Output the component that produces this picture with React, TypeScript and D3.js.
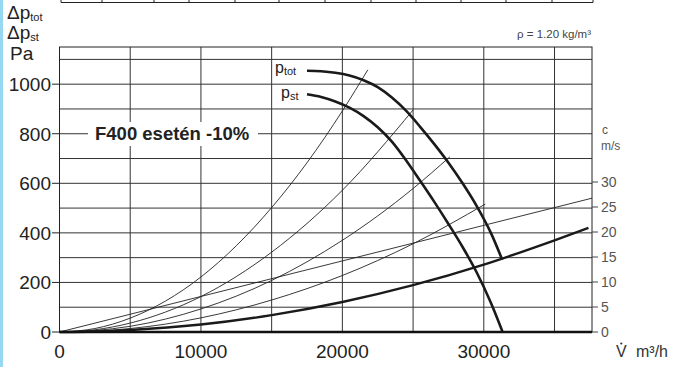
import React from 'react';
import * as d3 from 'd3';

// ---------- data ----------
const xTickValues = [0, 10000, 20000, 30000];
const xGridValues = [5000, 10000, 15000, 20000, 25000, 30000, 35000];
const yTickValues = [0, 200, 400, 600, 800, 1000];
const yGridValues = [100, 200, 300, 400, 500, 600, 700, 800, 900, 1000, 1100];
const cTickValues = [0, 5, 10, 15, 20, 25, 30];

type Pt = [number, number];

const pTotCurve: Pt[] = [
  [17500, 1054], [18500, 1052], [19500, 1046], [20500, 1035], [21500, 1016],
  [22500, 988], [23500, 946], [24500, 893], [25500, 828], [26500, 758],
  [27500, 683], [28500, 600], [29500, 508], [30500, 400], [31300, 292],
];
const pStCurve: Pt[] = [
  [17500, 959], [18500, 948], [19500, 930], [20500, 905], [21500, 871],
  [22500, 826], [23500, 768], [24500, 693], [25500, 610], [26500, 525],
  [27500, 436], [28500, 343], [29500, 240], [30500, 118], [31330, 0],
];
const systemCurve: Pt[] = [
  [0, 0], [2500, 2], [5000, 8], [10000, 30], [15000, 68], [20000, 121],
  [25000, 189], [30000, 272], [35000, 370], [37400, 420],
];
const thinCurveA: Pt[] = [
  [0, 0], [2500, 14], [5000, 56], [7500, 125], [10000, 222], [12500, 348],
  [15000, 502], [17500, 683], [20000, 892], [21800, 1058],
];
const thinCurveB: Pt[] = [
  [0, 0], [2500, 9], [5000, 36], [10000, 143], [15000, 322], [20000, 572], [25000, 896],
];
const thinCurveC: Pt[] = [
  [0, 0], [2500, 6], [5000, 23], [10000, 93], [15000, 208], [20000, 370], [25000, 579], [27600, 707],
];
const thinCurveD: Pt[] = [
  [0, 0], [2500, 3.5], [5000, 14], [10000, 57], [15000, 129], [20000, 228], [25000, 356], [30100, 516],
];
const velocityLine: Pt[] = [[0, 0], [37650, 540]];

// ---------- layout ----------
const W = 675;
const H = 367;
const L = 59.5, R = 592, T = 47, B = 332;
const tableEdges = [61, 102, 154, 189, 235, 279, 325, 371, 416, 461, 506, 552, 593];

const FONT = "'Liberation Sans', Arial, Helvetica, sans-serif";

export default function App() {
  const x = d3.scaleLinear().domain([0, 37650]).range([L, R]);
  const y = d3.scaleLinear().domain([0, 1150]).range([B, T]);
  const c = d3.scaleLinear().domain([0, 57]).range([B, T]);

  const line = d3
    .line<Pt>()
    .x((d) => x(d[0]))
    .y((d) => y(d[1]))
    .curve(d3.curveMonotoneX);

  const thin = [thinCurveA, thinCurveB, thinCurveC, thinCurveD, velocityLine];

  return (
    <svg
      width={W}
      height={H}
      viewBox={`0 0 ${W} ${H}`}
      style={{ position: 'absolute', left: 0, top: 0, background: '#fff' }}
      fontFamily={FONT}
    >
      <rect x={0} y={0} width={W} height={H} fill="#fff" />
      <rect x={0} y={0} width={3} height={H} fill="#96d7f2" />

      {/* top table remnant */}
      <line x1={tableEdges[0]} x2={tableEdges[tableEdges.length - 1]} y1={2.5} y2={2.5} stroke="#222" strokeWidth={1} />
      {tableEdges.map((e) => (
        <line key={'te' + e} x1={e} x2={e} y1={-1} y2={2.5} stroke="#222" strokeWidth={1} />
      ))}

      {/* grid */}
      {xGridValues.map((v) => (
        <line key={'gx' + v} x1={x(v)} x2={x(v)} y1={T} y2={B} stroke="#333" strokeWidth={1} />
      ))}
      {yGridValues.map((v) => (
        <line key={'gy' + v} x1={L} x2={R} y1={y(v)} y2={y(v)} stroke="#333" strokeWidth={1} />
      ))}
      <rect x={L} y={T} width={R - L} height={B - T} fill="none" stroke="#222" strokeWidth={1} />

      {/* label box */}
      <rect x={88} y={122} width={170} height={24} fill="#fff" />
      <text x={95} y={140} fontSize={18.5} fontWeight="bold" fill="#222">F400 esetén -10%</text>

      {/* thin curves */}
      {thin.map((d, i) => (
        <path key={'t' + i} d={line(d) || ''} fill="none" stroke="#222" strokeWidth={0.9} />
      ))}

      {/* thick curves */}
      <path d={line(systemCurve) || ''} fill="none" stroke="#1a1a1a" strokeWidth={2.4} />
      <path d={line(pTotCurve) || ''} fill="none" stroke="#1a1a1a" strokeWidth={2.6} />
      <path d={line(pStCurve) || ''} fill="none" stroke="#1a1a1a" strokeWidth={2.6} />

      {/* x axis thick */}
      <line x1={L} x2={R} y1={B} y2={B} stroke="#111" strokeWidth={2.5} />

      {/* left axis ticks + labels */}
      {yTickValues.map((v) => (
        <g key={'yt' + v}>
          <line x1={52} x2={L} y1={y(v)} y2={y(v)} stroke="#222" strokeWidth={1} />
          <text x={51} y={y(v)} dy="0.36em" fontSize={19} textAnchor="end" fill="#222">{v}</text>
        </g>
      ))}

      {/* bottom labels */}
      {xTickValues.map((v) => (
        <text key={'xt' + v} x={x(v)} y={358} fontSize={19} textAnchor="middle" fill="#222">{v}</text>
      ))}
      <text x={616} y={357} fontSize={16} fill="#333">V</text>
      <circle cx={621.3} cy={343.5} r={1.1} fill="#333" />
      <text x={636} y={357} fontSize={16} fill="#333">m³/h</text>

      {/* right axis */}
      {cTickValues.map((v) => (
        <g key={'ct' + v}>
          <line x1={R} x2={598} y1={c(v)} y2={c(v)} stroke="#444" strokeWidth={1} />
          <text x={601} y={c(v)} dy="0.36em" fontSize={14} fill="#555">{v}</text>
        </g>
      ))}
      <text x={602} y={134} fontSize={12} fill="#555">c</text>
      <text x={601} y={150} fontSize={12} fill="#555">m/s</text>

      {/* rho */}
      <text x={591} y={38} fontSize={11.5} textAnchor="end" fill="#444">ρ = 1.20 kg/m³</text>

      {/* y axis title */}
      <text x={7} y={19} fontSize={19} fill="#222">Δp<tspan fontSize={11} dy={2}>tot</tspan></text>
      <text x={7} y={39} fontSize={19} fill="#222">Δp<tspan fontSize={11} dy={2}>st</tspan></text>
      <text x={10} y={60} fontSize={19} fill="#222">Pa</text>

      {/* curve labels */}
      <text x={275} y={73} fontSize={16} fill="#222">p<tspan fontSize={11} dy={2}>tot</tspan></text>
      <text x={281} y={98} fontSize={16} fill="#222">p<tspan fontSize={11} dy={2}>st</tspan></text>
    </svg>
  );
}
